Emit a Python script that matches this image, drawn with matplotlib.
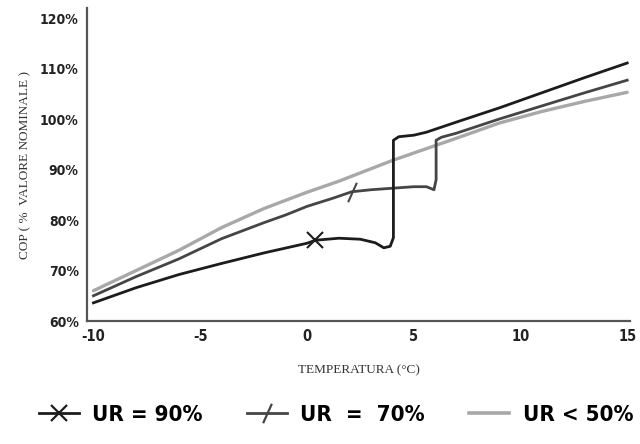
import numpy as np
import matplotlib
matplotlib.use("Agg")
import matplotlib.pyplot as plt
from matplotlib.lines import Line2D

# temperature (°C) / COP (% of nominal)
t_90 = [-10, -8, -6, -4, -2, 0, 0.4, 1.5, 2.5, 3.2, 3.6, 3.9, 4.05, 4.05, 4.3, 5.0, 5.6, 7, 9, 11, 13, 15]
cop_90 = [63.6, 66.6, 69.2, 71.4, 73.5, 75.4, 76.0, 76.4, 76.2, 75.5, 74.5, 74.8, 76.5, 95.8, 96.5, 96.8, 97.4, 99.4, 102.2, 105.2, 108.2, 111.1]

t_70 = [-10, -8, -6, -4, -2, -1, 0, 1.2, 2.1, 3, 4, 5, 5.6, 5.95, 6.05, 6.05, 6.3, 7, 9, 11, 13, 15]
cop_70 = [65.0, 68.8, 72.3, 76.3, 79.5, 81.0, 82.7, 84.3, 85.6, 86.0, 86.3, 86.6, 86.6, 86.0, 88.0, 95.8, 96.4, 97.2, 100.0, 102.6, 105.2, 107.7]

t_50 = [-10, -8, -6, -4, -2, 0, 1.5, 4, 7, 9, 11, 13, 15]
cop_50 = [66.0, 70.0, 74.0, 78.5, 82.3, 85.5, 87.7, 91.8, 96.2, 99.2, 101.5, 103.5, 105.3]

mark_90 = 6   # index of the x marker
mark_70 = 8   # index of the slash marker

x_ticks = [-10, -5, 0, 5, 10, 15]
y_ticks = [60, 70, 80, 90, 100, 110, 120]

tick_font = ["DejaVu Sans"]
serif_font = ["Liberation Serif", "DejaVu Serif"]

slash = [(-0.45, -1.0), (0.45, 1.0)]

fig = plt.figure(figsize=(6.4, 4.44), dpi=100)
ax = fig.add_axes([0.136, 0.277, 0.849, 0.705])

ax.plot(t_50, cop_50, color="#a8a8a8", lw=2.4, solid_capstyle="round")
ax.plot(t_70, cop_70, color="#454545", lw=2.0, marker=slash, markevery=[mark_70],
        markersize=14, markeredgewidth=1.5, solid_joinstyle="round")
ax.plot(t_90, cop_90, color="#1c1c1c", lw=2.0, marker="x", markevery=[mark_90],
        markersize=11, markeredgewidth=1.5, solid_joinstyle="round")

ax.set_xlim(-10.3, 15.15)
ax.set_ylim(60, 122)
ax.set_xticks(x_ticks)
ax.set_yticks(y_ticks)
ax.set_xticklabels([str(v) for v in x_ticks], family=tick_font, weight="bold",
                   stretch="condensed", fontsize=10.5)
ax.set_yticklabels([f"{v}%" for v in y_ticks], family=tick_font, weight="bold",
                   stretch="condensed", fontsize=10)
ax.tick_params(length=0, pad=6, colors="#222222")

for side in ("top", "right"):
    ax.spines[side].set_visible(False)
for side in ("left", "bottom"):
    ax.spines[side].set_color("#555555")
    ax.spines[side].set_linewidth(1.6)

ax.set_xlabel("TEMPERATURA (°C)", family=serif_font, fontsize=9.5, color="#333333", labelpad=14)
ax.set_ylabel("COP ( %  VALORE NOMINALE )", family=serif_font, fontsize=9.5, color="#333333", labelpad=6)

handles = [
    Line2D([], [], color="#1c1c1c", lw=2.0, marker="x", markersize=11, markeredgewidth=1.6),
    Line2D([], [], color="#454545", lw=2.0, marker=slash, markersize=14, markeredgewidth=1.6),
    Line2D([], [], color="#a8a8a8", lw=2.6),
]
labels = ["UR = 90%", "UR  =  70%", "UR < 50%"]
fig.legend(handles, labels, loc="center", bbox_to_anchor=(0.525, 0.065), ncol=3, frameon=False,
           prop={"family": tick_font, "weight": "bold", "size": 16, "stretch": "condensed"},
           handlelength=1.8, handletextpad=0.6, columnspacing=2.0)

fig.savefig("out.png", dpi=100)
